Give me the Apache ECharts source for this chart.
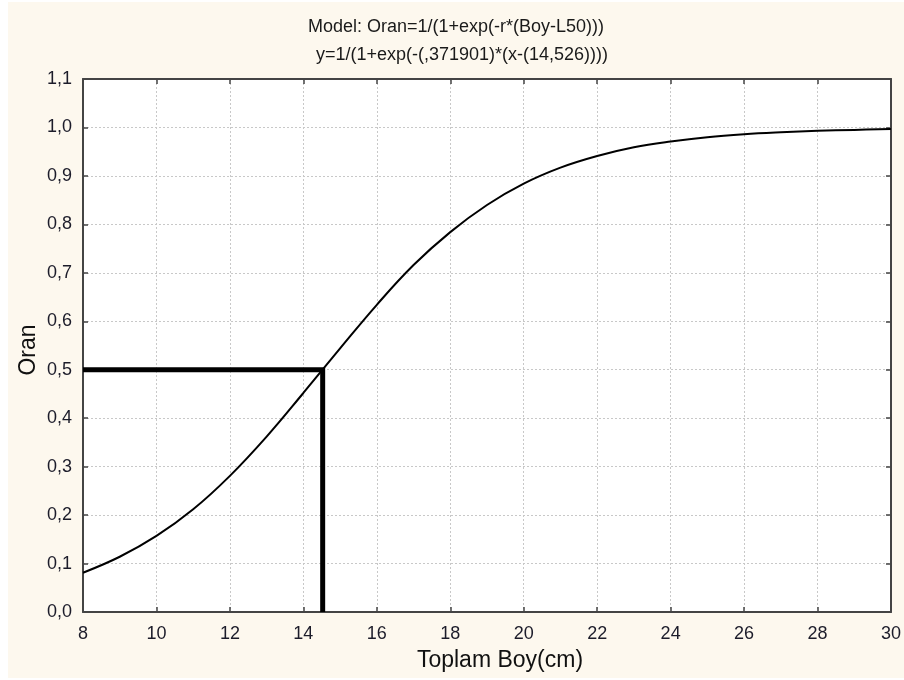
<!DOCTYPE html>
<html>
<head>
<meta charset="utf-8">
<script src="https://cdn.jsdelivr.net/npm/echarts@6/dist/echarts.min.js"></script>
<style>
html,body{margin:0;padding:0;background:#fff;}
#chart{width:904px;height:680px;}
</style>
</head>
<body>
<div id="chart"></div>
<script>
// Fitted logistic curve, proportion (Oran) by total length (Toplam Boy, cm)
const boy = [8, 9, 10, 11, 12, 13, 14, 15, 16, 17, 18, 19, 20, 21, 22, 23, 24, 25, 26, 27, 28, 29, 30];
const oran = [0.081, 0.114, 0.157, 0.212, 0.281, 0.362, 0.452, 0.544, 0.634, 0.716, 0.784, 0.840, 0.884, 0.917, 0.941, 0.959, 0.971, 0.980, 0.986, 0.990, 0.993, 0.995, 0.997];

// L50 guide: length at which half the proportion is reached
const l50Boy = [8, 14.526, 14.526];
const l50Oran = [0.5, 0.5, 0];

const titleLines = ['Model: Oran=1/(1+exp(-r*(Boy-L50)))', 'y=1/(1+exp(-(,371901)*(x-(14,526))))'];
const xName = 'Toplam Boy(cm)';
const yName = 'Oran';

const curveData = boy.map((x, i) => [x, oran[i]]);
const guideData = l50Boy.map((x, i) => [x, l50Oran[i]]);

const fmtY = v => v.toFixed(1).replace('.', ',');
const font = '"Liberation Sans", Arial, sans-serif';

const chart = echarts.init(document.getElementById('chart'), null, {renderer: 'canvas'});

const frame = {show: true, onZero: false, lineStyle: {color: '#444', width: 2}};
const gridLine = {show: true, lineStyle: {color: '#c8c8c8', type: [2, 2], width: 1}};
const tickIn = {show: true, inside: true, length: 5, lineStyle: {color: '#444', width: 1.5}};
const labelStyle = {color: '#1c1c2a', fontSize: 18, fontFamily: font};

chart.setOption({
  animation: false,
  backgroundColor: '#ffffff',
  graphic: [
    {type: 'rect', z: -10, shape: {x: 8, y: 2, width: 896, height: 676}, style: {fill: '#fdf8ee'}},
    {type: 'text', z: 10, x: 456, y: 27,
      style: {text: titleLines[0], font: '18px ' + font, fill: '#1a1a1a', align: 'center', verticalAlign: 'middle'}},
    {type: 'text', z: 10, x: 462, y: 55,
      style: {text: titleLines[1], font: '18px ' + font, fill: '#1a1a1a', align: 'center', verticalAlign: 'middle'}},
    {type: 'text', z: 10, x: 500, y: 661,
      style: {text: xName, font: '23px ' + font, fill: '#111', align: 'center', verticalAlign: 'middle'}},
    {type: 'text', z: 10, x: 29, y: 350, rotation: Math.PI / 2,
      style: {text: yName, font: '23px ' + font, fill: '#111', align: 'center', verticalAlign: 'middle'}}
  ],
  grid: {left: 83, top: 79, right: 7, bottom: 68, show: true, backgroundColor: '#ffffff', borderWidth: 0},
  xAxis: [{
    type: 'value', min: 8, max: 30, interval: 2,
    axisLine: frame,
    axisTick: tickIn,
    splitLine: gridLine,
    axisLabel: Object.assign({margin: 13}, labelStyle)
  }, {
    type: 'value', position: 'top', min: 8, max: 30, interval: 2,
    axisLine: frame, axisTick: tickIn, axisLabel: {show: false}, splitLine: {show: false}
  }],
  yAxis: [{
    type: 'value', min: 0, max: 1.1, interval: 0.1,
    axisLine: frame,
    axisTick: tickIn,
    splitLine: gridLine,
    axisLabel: Object.assign({margin: 11, formatter: fmtY}, labelStyle)
  }, {
    type: 'value', position: 'right', min: 0, max: 1.1, interval: 0.1,
    axisLine: frame, axisTick: tickIn, axisLabel: {show: false}, splitLine: {show: false}
  }],
  series: [{
    type: 'line', data: curveData, smooth: 0.4, showSymbol: false,
    lineStyle: {color: '#000', width: 2}, z: 3
  }, {
    type: 'line', data: guideData, showSymbol: false,
    lineStyle: {color: '#000', width: 5, join: 'miter'}, z: 4
  }]
});
</script>
</body>
</html>
